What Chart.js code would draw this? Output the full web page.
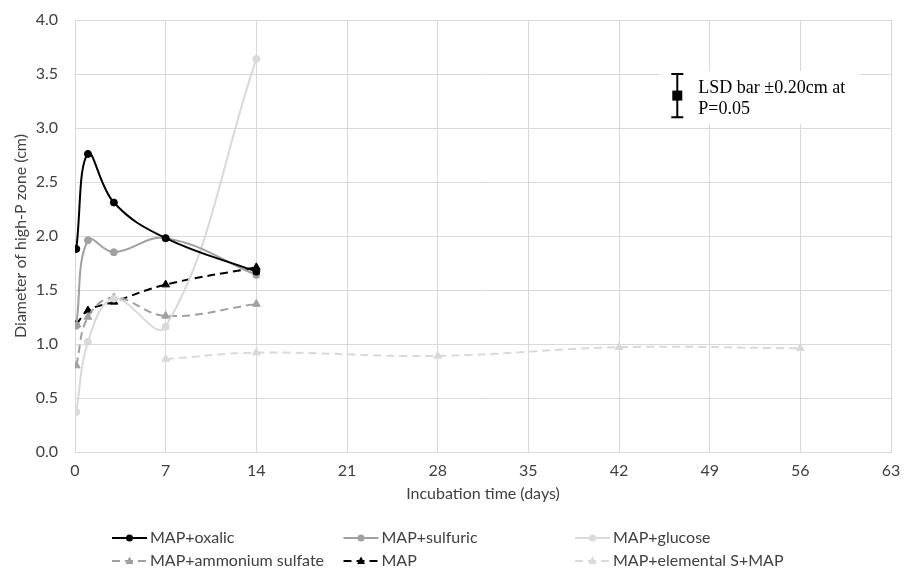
<!DOCTYPE html>
<html>
<head>
<meta charset="utf-8">
<script src="https://cdn.jsdelivr.net/npm/chart.js@4.4.1/dist/chart.umd.min.js"></script>
<style>
  body { margin: 0; background: #fff; }
  #wrap { width: 913px; height: 577px; }
</style>
</head>
<body>
<div id="wrap"><canvas id="chart" width="913" height="577"></canvas></div>
<script>
// Jours d'incubation
const days = [0.1, 1, 3, 7, 14];
const daysS = [7, 14, 28, 42, 56];

// Diamètre de la zone riche en P (cm)
const oxalic = [1.88, 2.76, 2.31, 1.98, 1.67];
const sulfuric = [1.17, 1.96, 1.85, 1.98, 1.64];
const glucose = [0.37, 1.02, 1.42, 1.16, 3.64];
const ammoniumSulfate = [0.80, 1.25, 1.43, 1.26, 1.37];
const mapOnly = [1.18, 1.31, 1.39, 1.55, 1.71];
const elementalS = [0.86, 0.92, 0.89, 0.97, 0.96];

const labels = ['MAP+oxalic', 'MAP+sulfuric', 'MAP+glucose', 'MAP+ammonium sulfate', 'MAP', 'MAP+elemental S+MAP'];

// Barre LSD
const lsdDay = [46.5];
const lsdValue = [3.3];
const lsdHalf = [0.2];
const lsdText = ['LSD bar \u00b10.20cm at', 'P=0.05'];

const xTicks = [0, 7, 14, 21, 28, 35, 42, 49, 56, 63];

const FONT = 'Lato';
const TEXT = '#404040';

function pts(xs, ys) {
  return xs.map((x, i) => ({ x: x, y: ys[i] }));
}

function serie(label, xs, ys, color, dashed, style) {
  return {
    label: label,
    data: pts(xs, ys),
    borderColor: color,
    backgroundColor: color,
    pointBackgroundColor: color,
    pointBorderColor: color,
    borderWidth: 2,
    borderDash: dashed ? [8, 5] : [],
    pointStyle: style,
    pointRadius: style === 'triangle' ? 4.5 : 3.5,
    pointBorderWidth: 1,
    tension: 0.4,
    fill: false
  };
}

// Légende façon Excel, en 3 colonnes
const legendPlugin = {
  id: 'excelLegend',
  afterDraw(chart) {
    const ctx = chart.ctx;
    ctx.save();
    chart.data.datasets.forEach((ds, i) => {
      const col = i % 3, row = Math.floor(i / 3);
      const x = 112 + col * 231.5;
      const y = 538 + row * 23;
      ctx.strokeStyle = ds.borderColor;
      ctx.lineWidth = 2;
      ctx.setLineDash(ds.borderDash);
      ctx.beginPath();
      ctx.moveTo(x, y);
      ctx.lineTo(x + 35, y);
      ctx.stroke();
      ctx.setLineDash([]);
      ctx.fillStyle = ds.borderColor;
      const cx = x + 17.5;
      ctx.beginPath();
      if (ds.pointStyle === 'triangle') {
        ctx.moveTo(cx, y - 4.5);
        ctx.lineTo(cx + 4, y + 3);
        ctx.lineTo(cx - 4, y + 3);
        ctx.closePath();
      } else {
        ctx.arc(cx, y, 3.5, 0, Math.PI * 2);
      }
      ctx.fill();
      ctx.fillStyle = TEXT;
      ctx.font = '16px ' + FONT;
      ctx.textBaseline = 'middle';
      ctx.fillText(ds.label, x + 38, y);
    });
    ctx.restore();
  }
};

// Barre d'erreur LSD avec son texte
const lsdPlugin = {
  id: 'lsdBar',
  afterDraw(chart) {
    const ctx = chart.ctx;
    const xs = chart.scales.x, ys = chart.scales.y;
    const px = xs.getPixelForValue(lsdDay[0]);
    const py = ys.getPixelForValue(lsdValue[0]);
    const top = ys.getPixelForValue(lsdValue[0] + lsdHalf[0]);
    const bot = ys.getPixelForValue(lsdValue[0] - lsdHalf[0]);
    ctx.save();
    ctx.fillStyle = '#fff';
    ctx.fillRect(px - 17, top - 3, 200, bot - top + 10);
    ctx.strokeStyle = '#000';
    ctx.lineWidth = 2;
    ctx.beginPath();
    ctx.moveTo(px, top); ctx.lineTo(px, bot);
    ctx.moveTo(px - 6, top); ctx.lineTo(px + 6, top);
    ctx.moveTo(px - 6, bot); ctx.lineTo(px + 6, bot);
    ctx.stroke();
    ctx.fillStyle = '#000';
    ctx.fillRect(px - 5, py - 5, 10, 10);
    ctx.font = '18px "Liberation Serif"';
    ctx.textBaseline = 'middle';
    ctx.fillText(lsdText[0], px + 21, py - 7);
    ctx.fillText(lsdText[1], px + 21, py + 14);
    ctx.restore();
  }
};

const ctx = document.getElementById('chart').getContext('2d');
new Chart(ctx, {
  type: 'line',
  data: {
    datasets: [
      serie(labels[0], days, oxalic, '#000000', false, 'circle'),
      serie(labels[1], days, sulfuric, '#a0a0a0', false, 'circle'),
      serie(labels[2], days, glucose, '#d9d9d9', false, 'circle'),
      serie(labels[3], days, ammoniumSulfate, '#a0a0a0', true, 'triangle'),
      serie(labels[4], days, mapOnly, '#000000', true, 'triangle'),
      serie(labels[5], daysS, elementalS, '#d9d9d9', true, 'triangle')
    ]
  },
  options: {
    responsive: false,
    animation: false,
    layout: { padding: { top: 20, right: 22, bottom: 65, left: 0 } },
    plugins: {
      legend: { display: false },
      tooltip: { enabled: false }
    },
    scales: {
      x: {
        type: 'linear',
        min: 0,
        max: 63,
        afterBuildTicks: (s) => { s.ticks = xTicks.map(v => ({ value: v })); },
        afterFit: (s) => { s.height = 60; },
        grid: { color: '#d9d9d9', drawTicks: false },
        border: { color: '#d9d9d9' },
        ticks: { color: TEXT, font: { family: FONT, size: 16 }, padding: 9, maxRotation: 0 },
        title: {
          display: true,
          text: 'Incubation time (days)',
          color: TEXT,
          font: { family: FONT, size: 16 },
          padding: { top: 0, bottom: 9 }
        }
      },
      y: {
        min: 0,
        max: 4,
        afterFit: (s) => { s.width = 75; s.paddingTop = 10; s.paddingBottom = 10; },
        grid: { color: '#d9d9d9', drawTicks: false },
        border: { color: '#d9d9d9' },
        ticks: {
          stepSize: 0.5,
          color: TEXT,
          font: { family: FONT, size: 16 },
          padding: 17,
          callback: (v) => v.toFixed(1)
        },
        title: {
          display: true,
          text: 'Diameter of high-P zone (cm)',
          color: TEXT,
          font: { family: FONT, size: 16 },
          padding: { top: 11, bottom: 0 }
        }
      }
    }
  },
  plugins: [legendPlugin, lsdPlugin]
});
</script>
</body>
</html>
